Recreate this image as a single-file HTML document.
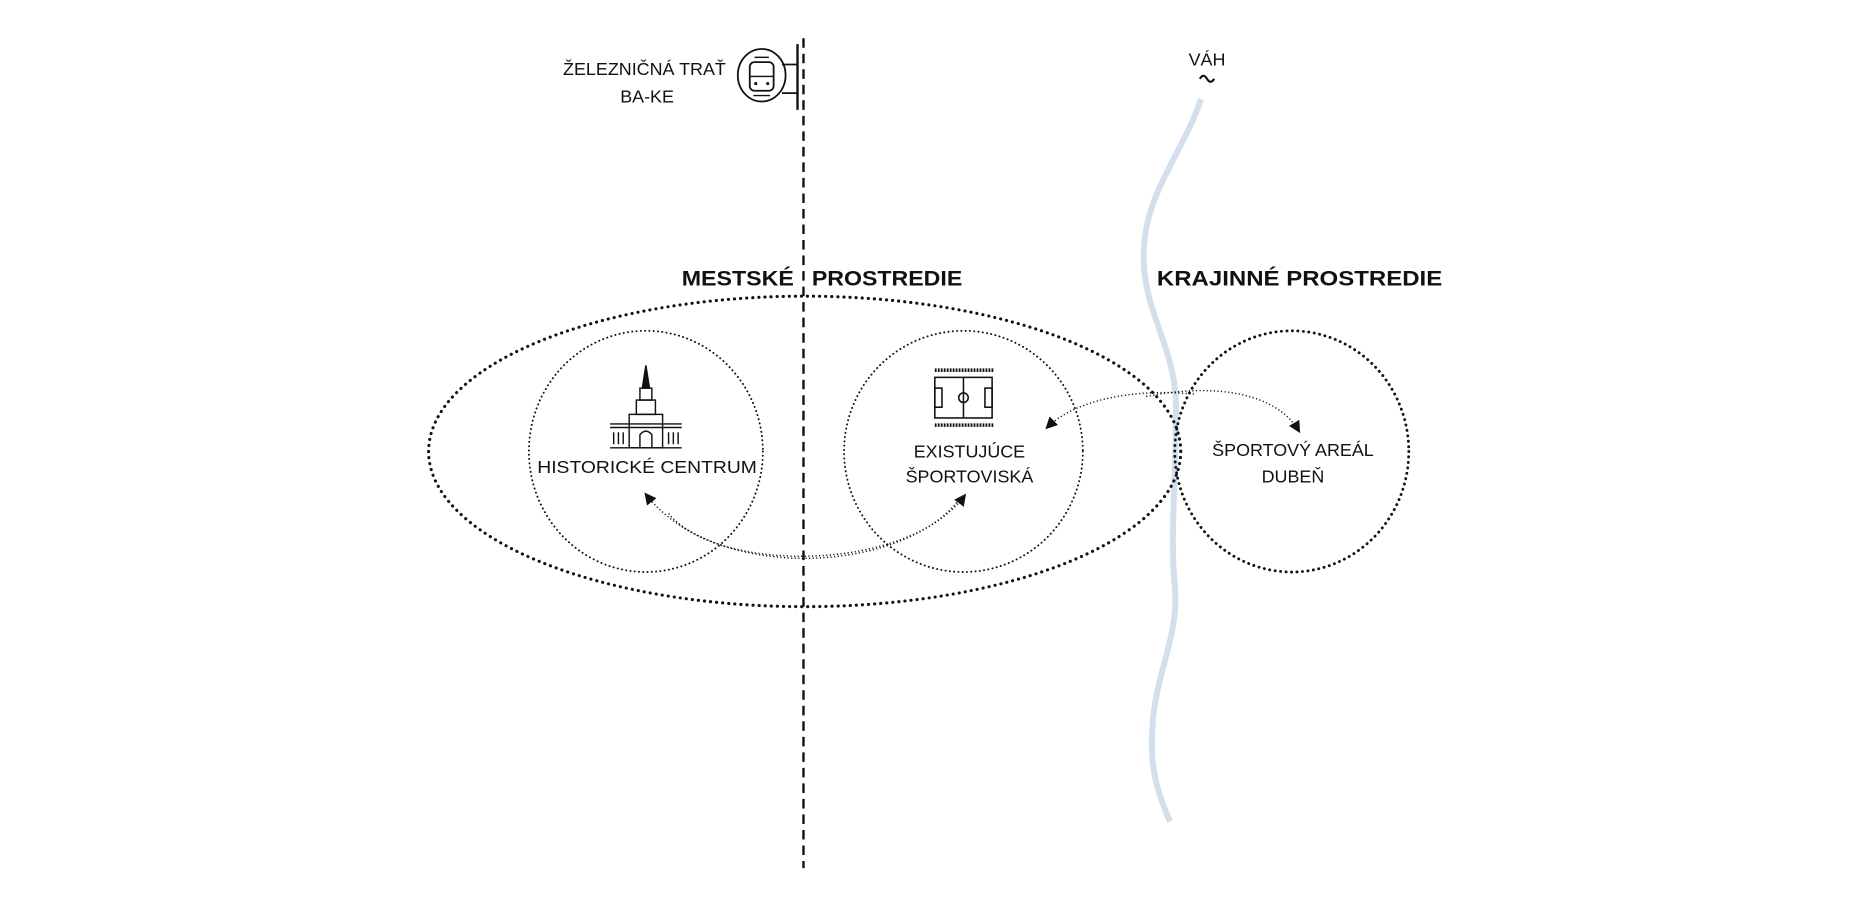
<!DOCTYPE html>
<html><head><meta charset="utf-8"><style>
html,body{margin:0;padding:0;background:#fff;}
svg{display:block;}
text{font-family:"Liberation Sans",sans-serif;fill:#111;}
</style></head><body>
<svg width="1872" height="904" viewBox="0 0 1568 757" preserveAspectRatio="none" xmlns="http://www.w3.org/2000/svg">
<defs>
<marker id="ah" markerWidth="10" markerHeight="10" refX="8" refY="5" orient="auto" markerUnits="userSpaceOnUse">
<path d="M0,0 L10,5 L0,10 z" fill="#111"/>
</marker>
</defs>
<path d="M1006,83 C990,130 960,160 958,210 C956,260 985,290 985,340 C985,400 980,450 984,490 C988,530 970,560 966,600 C962,640 968,660 980,688" fill="none" stroke="#d3dfec" stroke-width="5"/>
<line x1="673" y1="32" x2="673" y2="727" stroke="#111" stroke-width="2" stroke-dasharray="8,5"/>
<line x1="668" y1="37" x2="668" y2="92" stroke="#111" stroke-width="2"/>
<line x1="655" y1="54" x2="668" y2="54" stroke="#111" stroke-width="1.5"/>
<line x1="655" y1="78" x2="668" y2="78" stroke="#111" stroke-width="1.5"/>
<ellipse cx="638" cy="63" rx="20" ry="22" fill="none" stroke="#111" stroke-width="1.5"/>
<rect x="628" y="52" width="20" height="24" rx="4" fill="none" stroke="#111" stroke-width="1.5"/>
<line x1="628" y1="64" x2="648" y2="64" stroke="#111" stroke-width="1.2"/>
<line x1="632" y1="48" x2="644" y2="48" stroke="#111" stroke-width="1.2"/>
<circle cx="633" cy="70" r="1.3" fill="#111"/><circle cx="643" cy="70" r="1.3" fill="#111"/>
<line x1="631" y1="80" x2="645" y2="80" stroke="#111" stroke-width="1.2"/>
<text x="608" y="63" font-size="15" text-anchor="end">ŽELEZNIČNÁ TRAŤ</text>
<text x="542" y="86" font-size="15" text-anchor="middle">BA-KE</text>
<text x="1011" y="55" font-size="15" text-anchor="middle">VÁH</text>
<path d="M1005,66 q3,-5 6,0 q3,5 6,0" fill="none" stroke="#111" stroke-width="1.8"/>
<text x="571" y="239" font-size="18" font-weight="bold" textLength="94" lengthAdjust="spacingAndGlyphs">MESTSKÉ</text>
<text x="680" y="239" font-size="18" font-weight="bold" textLength="126" lengthAdjust="spacingAndGlyphs">PROSTREDIE</text>
<text x="969" y="239" font-size="18" font-weight="bold" textLength="239" lengthAdjust="spacingAndGlyphs">KRAJINNÉ PROSTREDIE</text>
<ellipse cx="674" cy="378" rx="315" ry="130" fill="none" stroke="#111" stroke-width="2.6" stroke-dasharray="0.1,5" stroke-linecap="round"/>
<ellipse cx="541" cy="378" rx="98" ry="101" fill="none" stroke="#111" stroke-width="1.6" stroke-dasharray="0.1,3.5" stroke-linecap="round"/>
<ellipse cx="807" cy="378" rx="100" ry="101" fill="none" stroke="#111" stroke-width="1.6" stroke-dasharray="0.1,3.5" stroke-linecap="round"/>
<ellipse cx="1082" cy="378" rx="98" ry="101" fill="none" stroke="#111" stroke-width="2.4" stroke-dasharray="0.1,4.5" stroke-linecap="round"/>
<path d="M805,416 C760,480 600,490 541,414" fill="none" stroke="#111" stroke-width="1.2" stroke-dasharray="1,2" marker-end="url(#ah)"/>
<path d="M560,430 C600,480 760,480 808,415" fill="none" stroke="#111" stroke-width="1.2" stroke-dasharray="1,2" marker-end="url(#ah)"/>
<path d="M1000,330 C950,325 900,335 877,358" fill="none" stroke="#111" stroke-width="1.2" stroke-dasharray="1,2" marker-end="url(#ah)"/>
<path d="M960,332 C1020,320 1070,330 1088,361" fill="none" stroke="#111" stroke-width="1.2" stroke-dasharray="1,2" marker-end="url(#ah)"/>
<g stroke="#111" fill="none" stroke-width="1.2">
<path d="M541,306 L538,325 L544,325 Z" fill="#111"/>
<rect x="536" y="325" width="10" height="10"/>
<rect x="533" y="335" width="16" height="12"/>
<rect x="527" y="347" width="28" height="28"/>
<line x1="511" y1="355" x2="571" y2="355"/>
<line x1="511" y1="375" x2="571" y2="375"/>
<line x1="511" y1="358" x2="571" y2="358"/>
<path d="M536,375 L536,364 Q541,358 546,364 L546,375"/>
<line x1="514" y1="362" x2="514" y2="372"/><line x1="518" y1="362" x2="518" y2="372"/><line x1="522" y1="362" x2="522" y2="372"/>
<line x1="560" y1="362" x2="560" y2="372"/><line x1="564" y1="362" x2="564" y2="372"/><line x1="568" y1="362" x2="568" y2="372"/>
</g>
<g stroke="#111" fill="none" stroke-width="1.3">
<line x1="783" y1="310" x2="832" y2="310" stroke-width="3" stroke-dasharray="1.5,1"/>
<rect x="783" y="316" width="48" height="34"/>
<line x1="807" y1="316" x2="807" y2="350"/>
<circle cx="807" cy="333" r="4"/>
<rect x="783" y="325" width="6" height="16"/>
<rect x="825" y="325" width="6" height="16"/>
<line x1="783" y1="356" x2="832" y2="356" stroke-width="3" stroke-dasharray="1.5,1"/>
</g>
<text x="542" y="396" font-size="15" text-anchor="middle" textLength="184" lengthAdjust="spacingAndGlyphs">HISTORICKÉ CENTRUM</text>
<text x="812" y="383" font-size="15" text-anchor="middle">EXISTUJÚCE</text>
<text x="812" y="404" font-size="15" text-anchor="middle">ŠPORTOVISKÁ</text>
<text x="1083" y="382" font-size="15" text-anchor="middle">ŠPORTOVÝ AREÁL</text>
<text x="1083" y="404" font-size="15" text-anchor="middle">DUBEŇ</text>
</svg>
</body></html>
